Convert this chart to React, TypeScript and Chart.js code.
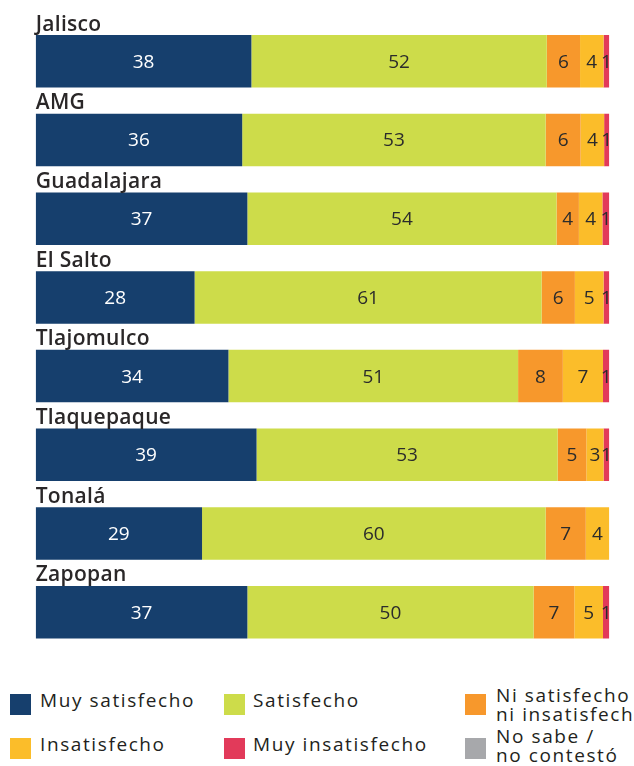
import React, { useEffect, useRef } from "react";
import { Chart, registerables } from "chart.js";

Chart.register(...registerables);

const categories = ["Jalisco", "AMG", "Guadalajara", "El Salto", "Tlajomulco", "Tlaquepaque", "Tonalá", "Zapopan"];
const seriesNames = ["Muy satisfecho", "Satisfecho", "Ni satisfecho ni insatisfecho", "Insatisfecho", "Muy insatisfecho", "No sabe / no contestó"];
const muySatisfecho = [37.6, 36.0, 36.9, 27.7, 33.6, 38.5, 29.0, 36.9];
const satisfecho = [51.5, 52.9, 53.9, 60.5, 50.5, 52.5, 59.9, 49.9];
const niNi = [5.8, 6.1, 3.9, 5.8, 7.8, 5.0, 7.0, 7.1];
const insatisfecho = [4.1, 4.1, 4.1, 5.0, 7.0, 3.0, 4.1, 5.0];
const muyInsatisfecho = [1.0, 0.9, 1.2, 1.0, 1.1, 1.0, 0, 1.1];
const noSabe = [0, 0, 0, 0, 0, 0, 0, 0];
const colors = ["#163f6d", "#cddc4a", "#f7982c", "#fbbd2a", "#e23a5a", "#a7a8ab"];
const labelColors = ["#ffffff", "#2b2b2b", "#2b2b2b", "#2b2b2b", "#2b2b2b", "#2b2b2b"];

const titlesPlugin = {
  id: "titles",
  afterDatasetsDraw(chart: any) {
    const ctx = chart.ctx;
    const meta = chart.getDatasetMeta(0);
    ctx.save();
    ctx.font = "600 21px 'Open Sans'";
    ctx.fillStyle = "#2a2728";
    ctx.textAlign = "left";
    ctx.textBaseline = "alphabetic";
    try { (ctx as any).letterSpacing = "0.3px"; } catch (e) {}
    meta.data.forEach((el: any, i: number) => {
      const top = el.y - el.height / 2;
      ctx.fillText(categories[i], chart.chartArea.left, top - 4.5);
    });
    ctx.restore();
  },
};

const valuesPlugin = {
  id: "values",
  afterDatasetsDraw(chart: any) {
    const ctx = chart.ctx;
    ctx.save();
    ctx.font = "400 19px 'Open Sans'";
    ctx.textAlign = "center";
    ctx.textBaseline = "middle";
    chart.data.datasets.forEach((ds: any, di: number) => {
      const meta = chart.getDatasetMeta(di);
      meta.data.forEach((el: any, i: number) => {
        const v = ds.data[i];
        if (!v || Math.round(v) === 0) return;
        ctx.fillStyle = labelColors[di];
        ctx.fillText(String(Math.round(v)), (el.x + el.base) / 2, el.y + 1);
      });
    });
    ctx.restore();
  },
};

const legendItems = [
  { name: "Muy satisfecho", color: colors[0], sq: [10, 694], tx: [40, 690], lines: ["Muy satisfecho"] },
  { name: "Satisfecho", color: colors[1], sq: [224, 694], tx: [253, 690], lines: ["Satisfecho"] },
  { name: seriesNames[2], color: colors[2], sq: [465, 694], tx: [496, 686], lines: ["Ni satisfecho", "ni insatisfecho"] },
  { name: "Insatisfecho", color: colors[3], sq: [10, 738], tx: [40, 734], lines: ["Insatisfecho"] },
  { name: "Muy insatisfecho", color: colors[4], sq: [224, 738], tx: [253, 734], lines: ["Muy insatisfecho"] },
  { name: seriesNames[5], color: colors[5], sq: [465, 738], tx: [496, 727], lines: ["No sabe /", "no contestó"] },
];

export default function App() {
  const ref = useRef<HTMLCanvasElement>(null);
  useEffect(() => {
    if (!ref.current) return;
    const values = [muySatisfecho, satisfecho, niNi, insatisfecho, muyInsatisfecho, noSabe];
    const chart = new Chart(ref.current, {
      type: "bar",
      data: {
        labels: categories,
        datasets: values.map((d, i) => ({
          label: seriesNames[i],
          data: d,
          backgroundColor: colors[i],
          borderWidth: 0,
          categoryPercentage: 1,
          barPercentage: 0.667,
        })),
      },
      options: {
        indexAxis: "y",
        responsive: false,
        animation: false,
        layout: { padding: { left: 35.7, right: 24.7, top: 21.9, bottom: 8.4 } },
        scales: {
          x: { stacked: true, display: false, min: 0, max: 100 },
          y: { stacked: true, display: false },
        },
        plugins: { legend: { display: false }, tooltip: { enabled: false } },
      },
      plugins: [titlesPlugin, valuesPlugin],
    });
    return () => chart.destroy();
  }, []);

  return (
    <div style={{ position: "absolute", left: 0, top: 0, width: 634, height: 766, overflow: "hidden", background: "#fff" }}>
      <canvas ref={ref} width={634} height={660} style={{ position: "absolute", left: 0, top: 0, width: 634, height: 660 }} />
      {legendItems.map((it) => (
        <React.Fragment key={it.name}>
          <div style={{ position: "absolute", left: it.sq[0], top: it.sq[1], width: 21, height: 21, background: it.color }} />
          <div
            style={{
              position: "absolute",
              left: it.tx[0],
              top: it.tx[1],
              fontFamily: "'Open Sans'",
              fontSize: 19,
              lineHeight: it.lines.length > 1 ? "19px" : "21px",
              letterSpacing: "1.6px",
              color: "#231f20",
              whiteSpace: "nowrap",
            }}
          >
            {it.lines.map((l, k) => (
              <div key={k}>{l}</div>
            ))}
          </div>
        </React.Fragment>
      ))}
    </div>
  );
}
